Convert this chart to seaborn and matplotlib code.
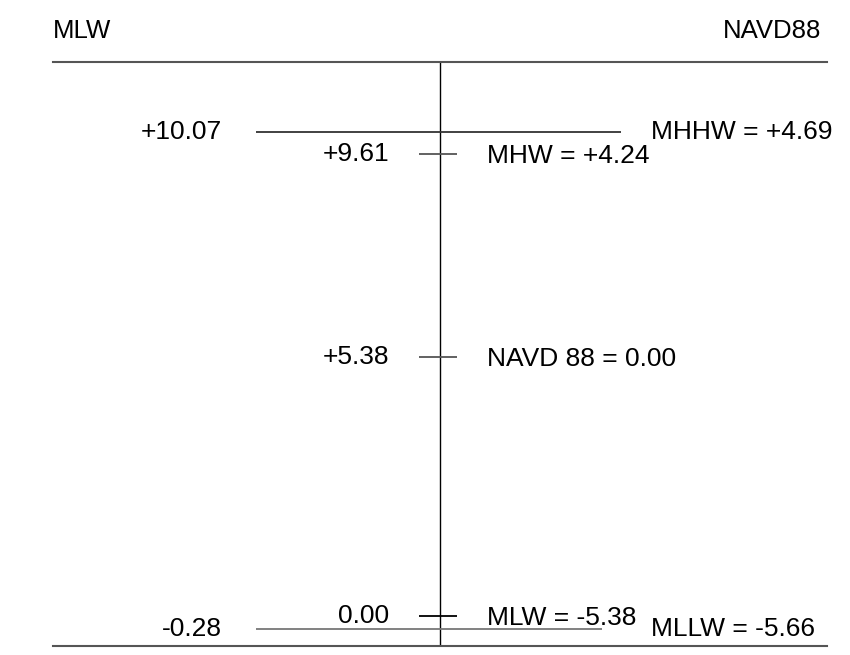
import matplotlib
matplotlib.use("Agg")
import matplotlib.pyplot as plt
import seaborn as sns
import pandas as pd

# datum values (feet)
levels = ['MHHW', 'MHW', 'NAVD 88', 'MLW', 'MLLW']
mlw_vals = [10.07, 9.61, 5.38, 0.00, -0.28]
navd_vals = [4.69, 4.24, 0.00, -5.38, -5.66]
is_extreme = [True, False, False, False, True]


def fmt(v):
    if v == 0:
        return '0.00'
    return f'{v:+.2f}'


sns.set_style("white")
plt.rcParams['font.family'] = ['Liberation Sans', 'DejaVu Sans']
plt.rcParams['text.color'] = 'black'

fig = plt.figure(figsize=(8.5, 6.55), dpi=100)
ax = fig.add_axes([0.0624, 0.0142, 0.9106, 0.8911])

# vertical reference line
vert = pd.DataFrame({'x': [0, 0], 'y': [-0.62, 11.53]})
sns.lineplot(data=vert, x='x', y='y', color='black', linewidth=1.0, ax=ax, estimator=None, sort=False)

fs = 19
for name, mv, nv, ext in zip(levels, mlw_vals, navd_vals, is_extreme):
    if ext:
        x_end = 0.468 if name == 'MHHW' else 0.419
        col = '#333333' if name == 'MHHW' else '#777777'
        ax.hlines(mv, -0.475, x_end, color=col, linewidth=1.3)
        ax.text(-0.563, mv, fmt(mv), ha='right', va='center', fontsize=fs)
        ax.text(0.545, mv, f'{name} = {fmt(nv)}', ha='left', va='center', fontsize=fs)
    else:
        ax.hlines(mv, -0.054, 0.044, color='#555555' if mv != 0 else 'black', linewidth=1.3)
        ax.text(-0.131, mv, fmt(mv), ha='right', va='center', fontsize=fs)
        ax.text(0.121, mv - 0.04, f'{name} = {fmt(nv)}', ha='left', va='center', fontsize=fs)

ax.set_xlim(-1, 1)
ax.set_ylim(-0.62, 11.53)
ax.set_xlabel('')
ax.set_ylabel('')
ax.set_xticks([])
ax.set_yticks([])
for side in ['left', 'right']:
    ax.spines[side].set_visible(False)
for side in ['top', 'bottom']:
    ax.spines[side].set_color('#555555')
    ax.spines[side].set_linewidth(1.5)

ax.text(0.0, 1.054, 'MLW', transform=ax.transAxes, ha='left', va='center', fontsize=18.5)
ax.text(0.992, 1.054, 'NAVD88', transform=ax.transAxes, ha='right', va='center', fontsize=18.5)

fig.savefig('out.png', dpi=100)
